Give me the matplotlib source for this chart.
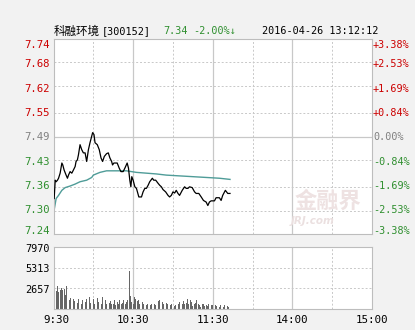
import matplotlib
matplotlib.use("Agg")
import matplotlib.pyplot as plt
import matplotlib.transforms as mtransforms

# ---------------- data ----------------
stock_name = "科融环境"
stock_code = "[300152]"
last_price = "7.34"
change_pct = "-2.00%↓"
timestamp = "2016-04-26 13:12:12"
prev_close = 7.49

price_ticks = [7.24, 7.30, 7.36, 7.43, 7.49, 7.55, 7.62, 7.68, 7.74]
pct_labels = ["-3.38%", "-2.53%", "-1.69%", "-0.84%", "0.00%",
              "+0.84%", "+1.69%", "+2.53%", "+3.38%"]
vol_ticks = [2657, 5313, 7970]
time_labels = ["9:30", "10:30", "11:30", "14:00", "15:00"]
time_label_minutes = [0, 60, 120, 180, 240]

# price line (minutes since open on trading clock, price)
price_min = [0.5, 1.3, 2, 3, 3.8, 5, 6.3, 7, 8, 9.5, 10.5, 11.3, 12.5, 13.8, 15,
             16.3, 17, 18, 18.8, 20, 21.3, 22.5, 23.8, 25, 26.3, 27.5, 28.8, 29.5,
             30.5, 31.3, 33, 34.5, 35.8, 37, 38.3, 40, 41.3, 42.5, 43.8, 44.5, 45.5,
             48, 49.5, 50.8, 52.5, 53.8, 55.5, 56.5, 57.5, 58.3, 59, 60, 61.3, 62.5,
             64.3, 66.3, 67.5, 68.8, 70, 71.3, 72.5, 74.5, 75.5, 77, 78.8, 80, 81.3,
             82.5, 84.5, 86.3, 87.5, 88.8, 90, 91.3, 92.5, 93.8, 95, 97, 98.8, 100,
             101.3, 102.5, 104.5, 106.3, 107.5, 109.5, 111.3, 113, 115, 116.3, 117.5,
             118.8, 121.3, 122.5, 125, 126.3, 127.5, 129.5, 131.3, 133]
price_val = [7.331, 7.378, 7.374, 7.378, 7.383, 7.396, 7.422, 7.417, 7.404, 7.391,
             7.383, 7.391, 7.400, 7.396, 7.404, 7.413, 7.426, 7.430, 7.443, 7.469,
             7.456, 7.448, 7.448, 7.426, 7.456, 7.474, 7.491, 7.500, 7.495, 7.474,
             7.469, 7.456, 7.435, 7.426, 7.439, 7.446, 7.448, 7.435, 7.426, 7.417,
             7.422, 7.422, 7.409, 7.400, 7.400, 7.409, 7.422, 7.409, 7.378, 7.361,
             7.387, 7.378, 7.361, 7.357, 7.335, 7.335, 7.348, 7.357, 7.357, 7.365,
             7.374, 7.383, 7.378, 7.378, 7.370, 7.365, 7.361, 7.354, 7.348, 7.339,
             7.335, 7.339, 7.348, 7.345, 7.352, 7.344, 7.339, 7.352, 7.361, 7.357,
             7.357, 7.361, 7.359, 7.348, 7.344, 7.344, 7.335, 7.326, 7.322, 7.313,
             7.322, 7.325, 7.325, 7.333, 7.333, 7.326, 7.339, 7.352, 7.344, 7.344]

# average price line
avg_min = [0.5, 2, 3.8, 6.3, 8.8, 12.5, 16.3, 20, 25, 28.8, 30, 35, 40, 47.5, 55,
           62.5, 70, 77.5, 85, 95, 105, 115, 125, 133]
avg_val = [7.302, 7.331, 7.339, 7.352, 7.359, 7.363, 7.368, 7.374, 7.378, 7.385,
           7.391, 7.398, 7.402, 7.402, 7.402, 7.398, 7.396, 7.394, 7.391, 7.389,
           7.387, 7.385, 7.383, 7.380]

# per-minute volume
volume = [7750, 3000, 2300, 2900, 2200, 2500, 2700, 2400, 2600, 1800,
          3000, 1400, 1100, 1400, 900, 1300, 1000, 1200, 800, 1300,
          1100, 700, 1200, 1400, 900, 1300, 1000, 1500, 800, 1200,
          1300, 600, 1000, 1400, 900, 1100, 700, 1600, 1000, 1200,
          700, 1300, 800, 1000, 600, 700, 1100, 500, 900, 700,
          1200, 600, 800, 1100, 700, 900, 1200, 4850, 1700, 900,
          600, 1500, 1300, 1000, 1200, 700, 500, 900, 600, 400,
          500, 600, 400, 500, 600, 500, 700, 500, 600, 1000,
          1200, 700, 900, 600, 500, 800, 600, 900, 500, 700,
          600, 400, 500, 700, 600, 900, 500, 700, 1000, 600,
          800, 1300, 700, 1100, 900, 400, 600, 800, 1200, 700,
          500, 300, 700, 600, 400, 500, 400, 600, 400, 500,
          450, 300, 500, 400, 450, 300, 500, 400, 300, 450,
          350, 400, 300, 400]

# ---------------- styling ----------------
BG = "#f2f2f2"
RED = "#cc0000"
GREEN = "#2f8f2f"
GRAY = "#808080"
GRID = "#c8c8c8"
AVG = "#4f9c98"
FS = 7.3

plt.rcParams['font.family'] = ['DejaVu Sans Mono', 'Noto Sans CJK SC']

fig = plt.figure(figsize=(4.15, 3.30), dpi=100, facecolor=BG)
W, H = 415.0, 330.0
L, R = 53.5, 372.0
ax = fig.add_axes([L / W, 1 - 234 / H, (R - L) / W, (234 - 39) / H])
axv = fig.add_axes([L / W, 1 - 309 / H, (R - L) / W, (309 - 247) / H])

span = price_ticks[-1] - prev_close
for a in (ax, axv):
    a.set_facecolor("white")
    a.set_xlim(0, 240)
    for s in a.spines.values():
        s.set_color("#bdbdbd")
        s.set_linewidth(0.8)
    a.set_xticks([])
    a.set_yticks([])
    for m in (30, 90, 150, 210):
        a.axvline(m, color=GRID, lw=0.7, ls=(0, (2, 2)), zorder=0)
    for m in (60, 120, 180):
        a.axvline(m, color=GRID, lw=0.9, ls="-", zorder=0)

ax.set_ylim(prev_close - span, prev_close + span)
for p in price_ticks[1:-1]:
    if abs(p - prev_close) < 1e-6:
        ax.axhline(p, color=GRID, lw=0.9, ls="-", zorder=0)
    else:
        ax.axhline(p, color=GRID, lw=0.7, ls=(0, (2, 2)), zorder=0)

# watermark
ax.text(0.86, 0.17, "金融界", transform=ax.transAxes, ha="center", va="center",
        fontsize=16, color="#eee2e2", family=["Noto Sans CJK SC"], fontweight="bold",
        zorder=1)
ax.text(0.815, 0.065, "JRJ.com", transform=ax.transAxes, ha="center", va="center",
        fontsize=7.5, color="#ebe0e0", style="italic", family=["DejaVu Sans"],
        fontweight="bold", zorder=1)

ax.plot(avg_min, avg_val, color=AVG, lw=1.0, zorder=2)
ax.plot(price_min, price_val, color="black", lw=0.9, zorder=3)

# price / percent labels (ends nudged inside the panel, as in the reference)
ytr = ax.get_yaxis_transform()
n = len(price_ticks)
for i, p in enumerate(price_ticks):
    ypos = prev_close - span + i * (2 * span / (n - 1))
    dy = -4.5 if i == n - 1 else (2.2 if i == 0 else -0.6)
    tr = mtransforms.offset_copy(ytr, fig=fig, x=0, y=dy, units="points")
    c = RED if i > 4 else (GRAY if i == 4 else GREEN)
    ax.text(-0.012, ypos, f"{p:.2f}", transform=tr,
            ha="right", va="center", color=c, fontsize=FS + 0.4)
    ax.text(1.003, ypos, pct_labels[i], transform=tr,
            ha="left", va="center", color=c, fontsize=FS)

# volume
vx = list(range(len(volume)))
axv.bar(vx, volume, width=0.6, color="#666666", align="center", zorder=2)
axv.set_ylim(0, vol_ticks[-1])
for v in vol_ticks[:-1]:
    axv.axhline(v, color=GRID, lw=0.7, ls=(0, (2, 2)), zorder=0)
vtr = mtransforms.offset_copy(axv.get_yaxis_transform(), fig=fig, x=0, y=-1.2,
                              units="points")
for v in vol_ticks:
    axv.text(-0.012, v, str(v), transform=vtr,
             ha="right", va="center", color="black", fontsize=FS)
for lab, m in zip(time_labels, time_label_minutes):
    xm = m + 2 if m == 0 else m
    axv.text(xm, -0.1, lab, transform=axv.get_xaxis_transform(),
             ha="center", va="top", color="black", fontsize=FS + 0.5)

# header
hy = 1 - 31 / H
fig.text(53.5 / W, hy, stock_name, ha="left", va="center", fontsize=8.3,
         family=["Noto Sans CJK SC", "DejaVu Sans"], color="black")
fig.text(102 / W, hy, stock_code, ha="left", va="center", fontsize=FS, color="black")
fig.text(163 / W, hy, last_price, ha="left", va="center", fontsize=FS, color=GREEN)
fig.text(193 / W, hy, change_pct, ha="left", va="center", fontsize=FS, color=GREEN,
         family=["DejaVu Sans Mono", "DejaVu Sans"])
fig.text(262 / W, hy, timestamp, ha="left", va="center", fontsize=FS, color="black")

fig.savefig("out.png", dpi=100, facecolor=BG)
